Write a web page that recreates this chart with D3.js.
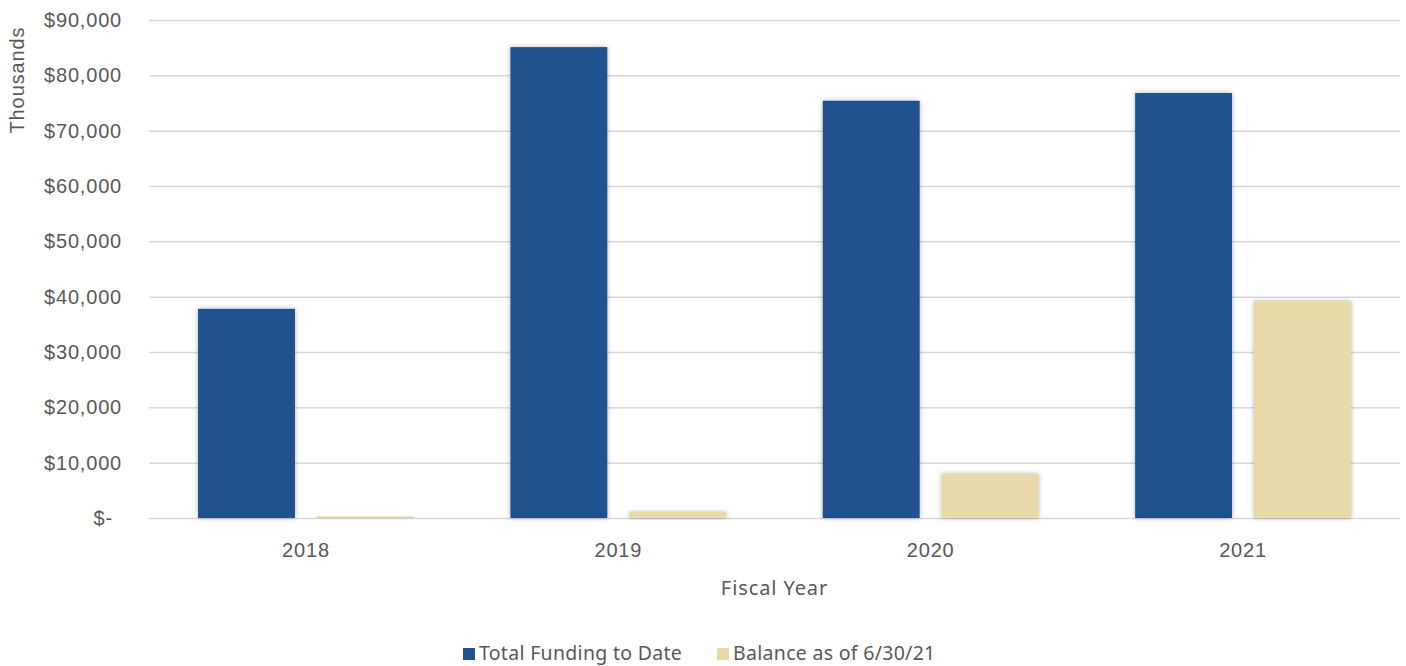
<!DOCTYPE html>
<html>
<head>
<meta charset="utf-8">
<script src="https://cdn.jsdelivr.net/npm/d3@7"></script>
<style>
  body { margin: 0; background: #fff; }
  svg { display: block; }
</style>
</head>
<body>
<svg id="chart" width="1406" height="666"></svg>
<script>
// data (thousands of dollars)
let years = ["2018", "2019", "2020", "2021"];
let seriesNames = ["Total Funding to Date", "Balance as of 6/30/21"];
let totalFunding = [37800, 85100, 75400, 76800];
let balance = [300, 1150, 7950, 39200];
let yTicks = [0, 10000, 20000, 30000, 40000, 50000, 60000, 70000, 80000, 90000];

const colors = ["#23518f", "#e8d9a6"];
const textColor = "#595959";
const sansFont = "'Liberation Sans', Arial, sans-serif";

let svg = d3.select("svg#chart");
let margin = {top: 20, right: 6, bottom: 148, left: 149};
let width = +svg.attr("width") - margin.left - margin.right;
let height = +svg.attr("height") - margin.top - margin.bottom;

let defs = svg.append("defs");
let shadow = defs.append("filter").attr("id", "shadow")
    .attr("x", "-20%").attr("y", "-20%").attr("width", "140%").attr("height", "140%");
shadow.append("feDropShadow")
    .attr("dx", 0).attr("dy", 0).attr("stdDeviation", 2.5)
    .attr("flood-color", "#000").attr("flood-opacity", 0.3);

let chartArea = svg.append("g").attr("transform", `translate(${margin.left},${margin.top})`);

const x0 = d3.scaleBand().domain(years).range([0, width]).paddingInner(0.309).paddingOuter(0.157);
const x1 = d3.scaleBand().domain([0, 1]).range([0, x0.bandwidth()]).paddingInner(0.185);
const y = d3.scaleLinear().domain([0, 90000]).range([height, 0]);

// gridlines
let grid = d3.axisLeft(y).tickValues(yTicks).tickSize(-width).tickFormat("");
chartArea.append("g").attr("class", "grid").call(grid)
    .call(g => g.select(".domain").remove())
    .call(g => g.selectAll("line").attr("stroke", "#d9d9d9").attr("stroke-width", 1.5));

// y axis labels
let fmt = d => d === 0 ? "$-" : "$" + d3.format(",")(d);
chartArea.append("g").call(d3.axisLeft(y).tickValues(yTicks).tickSize(0).tickPadding(0).tickFormat(fmt))
    .call(g => g.select(".domain").remove())
    .call(g => g.selectAll("text")
        .attr("x", d => d === 0 ? -36 : -27)
        .attr("fill", textColor)
        .style("font-family", sansFont)
        .style("font-size", "20px")
        .style("letter-spacing", "0.8px"));

// bars
let data = years.map((yr, i) => ({year: yr, values: [totalFunding[i], balance[i]]}));
let groups = chartArea.selectAll("g.year").data(data).join("g")
    .attr("class", "year")
    .attr("transform", d => `translate(${x0(d.year)},0)`);

groups.selectAll("rect").data(d => d.values.map((v, k) => ({k, v}))).join("rect")
    .attr("x", d => x1(d.k))
    .attr("width", x1.bandwidth())
    .attr("y", d => y(d.v))
    .attr("height", d => y(0) - y(d.v))
    .attr("fill", d => colors[d.k])
    .attr("filter", "url(#shadow)");

// x axis
chartArea.append("g").attr("transform", `translate(0,${height})`)
    .call(d3.axisBottom(x0).tickSize(0))
    .call(g => g.select(".domain").remove())
    .call(g => g.selectAll("text")
        .attr("y", 39).attr("dy", 0)
        .attr("fill", textColor)
        .style("font-family", sansFont)
        .style("font-size", "20px")
        .style("letter-spacing", "0.8px"));

// axis titles
svg.append("text")
    .attr("x", margin.left + width / 2)
    .attr("y", 595)
    .attr("text-anchor", "middle")
    .attr("fill", textColor)
    .style("font-family", "'Noto Sans', sans-serif")
    .style("font-size", "20px")
    .style("letter-spacing", "0.9px")
    .text("Fiscal Year");

svg.append("text")
    .attr("transform", "translate(24,80) rotate(-90)")
    .attr("text-anchor", "middle")
    .attr("fill", textColor)
    .style("font-family", sansFont)
    .style("font-size", "20px")
    .style("letter-spacing", "0.9px")
    .text("Thousands");

// legend
let legendX = [463, 717];
let legend = svg.append("g").selectAll("g").data(seriesNames).join("g")
    .attr("transform", (d, i) => `translate(${legendX[i]},648)`);
legend.append("rect").attr("width", 12).attr("height", 12).attr("fill", (d, i) => colors[i]);
legend.append("text")
    .attr("x", 16).attr("y", 12)
    .attr("fill", textColor)
    .style("font-family", "'Noto Sans', sans-serif")
    .style("font-size", "19.5px")
    .style("letter-spacing", "0.3px")
    .text(d => d);
</script>
</body>
</html>
